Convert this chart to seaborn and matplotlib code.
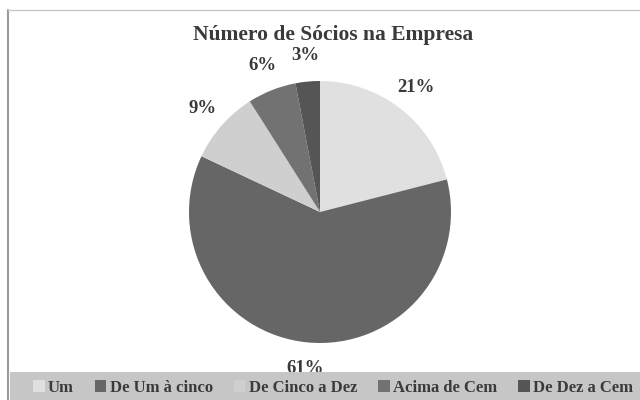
import matplotlib
matplotlib.use("Agg")
import matplotlib.pyplot as plt
import seaborn as sns
from matplotlib.patches import Rectangle
from matplotlib.lines import Line2D

sns.set_style("white")
plt.rcParams["font.family"] = ["Liberation Serif", "DejaVu Serif"]
plt.rcParams["font.weight"] = "bold"

# data
categorias = ["Um", "De Um à cinco", "De Cinco a Dez", "Acima de Cem", "De Dez a Cem"]
percentuais = [21, 61, 9, 6, 3]
cores = ["#e0e0e0", "#666666", "#cfcfcf", "#727272", "#555555"]

fig = plt.figure(figsize=(6.4, 4), dpi=100)
fig.patch.set_facecolor("white")

# scanned page border and legend band
fig.add_artist(Line2D([8 / 640, 8 / 640], [0, 1 - 10 / 400], color="#9a9a9a", lw=1.5))
fig.add_artist(Line2D([8 / 640, 1], [1 - 10 / 400, 1 - 10 / 400], color="#c8c8c8", lw=1))
fig.add_artist(Rectangle((10 / 640, 0), 1, 28 / 400, transform=fig.transFigure,
                         facecolor="#c6c6c6", edgecolor="none"))

ax = fig.add_axes([189 / 640, 57 / 400, 262 / 640, 262 / 400])
wedges, texts, autotexts = ax.pie(
    percentuais, colors=cores, startangle=90, counterclock=False,
    autopct="%1.0f%%", pctdistance=1.2,
    wedgeprops={"linewidth": 0},
    textprops={"fontsize": 13.5, "fontweight": "bold", "color": "#3a3a3a"},
)
ax.set_xlim(-1, 1)
ax.set_ylim(-1, 1)

fig.text(333 / 640, 1 - 35 / 400, "Número de Sócios na Empresa",
         ha="center", va="center", fontsize=15.5, fontweight="bold", color="#3a3a3a")

fig.legend(wedges, categorias, loc="center", bbox_to_anchor=(333 / 640, 12 / 400),
           ncol=5, frameon=False, fontsize=12, handlelength=0.7, handleheight=0.7,
           handletextpad=0.2, columnspacing=1.25, labelcolor="#3a3a3a")

plt.savefig("out.png", dpi=100)
